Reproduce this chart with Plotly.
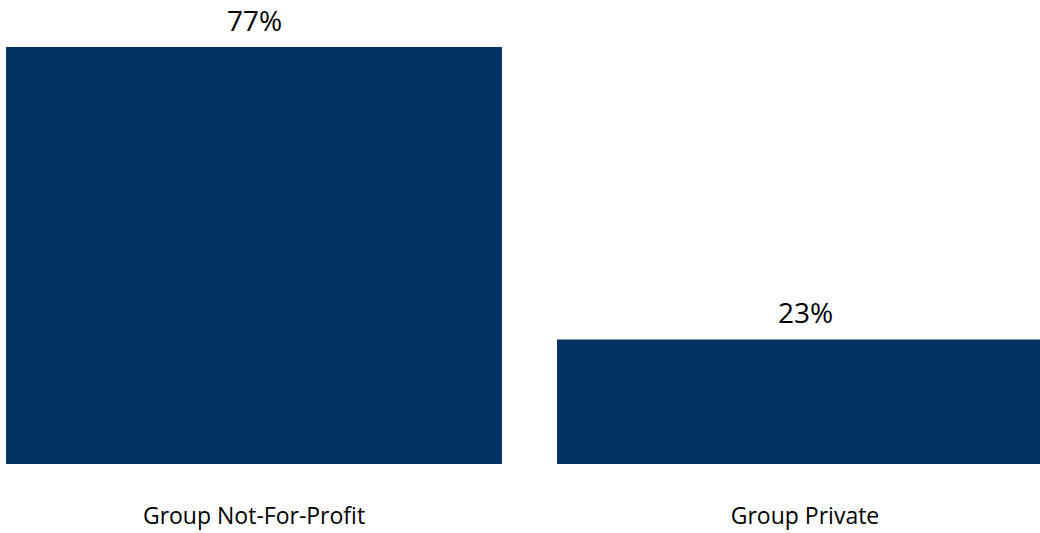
import plotly.graph_objects as go

categories = ["Group Not-For-Profit", "Group Private"]
shares = [77, 23]
labels = ["77%", "23%"]

BAR_COLOR = "#003263"

fig = go.Figure(
    go.Bar(
        x=categories,
        y=shares,
        marker=dict(color=BAR_COLOR, line=dict(width=0)),
        hoverinfo="skip",
    )
)

# value labels sitting just above each bar
for cat, val, lab in zip(categories, shares, labels):
    fig.add_annotation(
        x=cat,
        y=val,
        text=lab,
        showarrow=False,
        yanchor="bottom",
        yshift=6,
        font=dict(family="Open Sans", size=28, color="#000000"),
    )

fig.update_layout(
    width=1040,
    height=533,
    margin=dict(l=0, r=0, t=0, b=69),
    paper_bgcolor="white",
    plot_bgcolor="white",
    bargap=0.1,
    showlegend=False,
    font=dict(family="Open Sans", color="#000000"),
)

fig.update_xaxes(
    range=[-0.461, 1.4265],
    showgrid=False,
    showline=False,
    zeroline=False,
    ticks="",
    tickfont=dict(family="Open Sans", size=23, color="#000000"),
    ticklabelstandoff=36,
)

fig.update_yaxes(
    range=[0, 85.68],
    visible=False,
    showgrid=False,
    zeroline=False,
)

fig.write_html("out.html")
